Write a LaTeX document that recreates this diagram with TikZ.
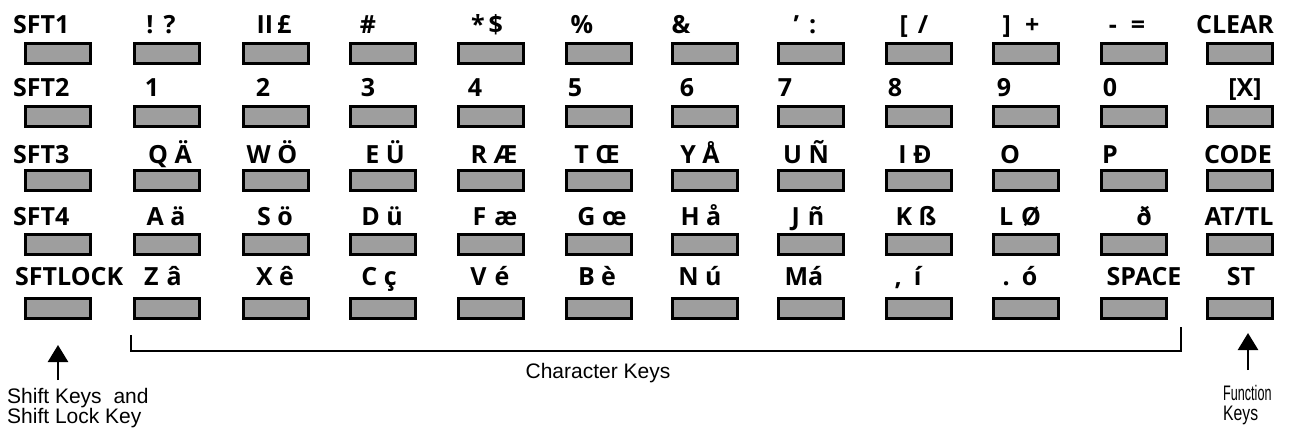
\documentclass[tikz,border=0pt]{standalone}
\usepackage{fontspec}
\usetikzlibrary{arrows.meta}
\newfontfamily\labfont{Open Sans}
\newfontfamily\capfont{Liberation Sans}
\begin{document}
\begin{tikzpicture}[x=1pt,y=-1pt,
  keybox/.style={draw=black, line width=3pt, fill=black!38, minimum width=65pt, minimum height=20pt, inner sep=0pt},
  lab/.style={font=\labfont\bfseries\fontsize{25}{25}\selectfont, inner sep=0pt, anchor=base},
  sftlab/.style={lab, anchor=base west},
  captext/.style={font=\capfont\fontsize{21}{20}\selectfont, inner sep=0pt},
  bracketline/.style={line width=2.2pt},
  uparrow/.style={line width=2.5pt, -{Triangle[width=20pt,length=17pt]}}]
\useasboundingbox (0,0) rectangle (1293,431);
\fill[white] (0,0) rectangle (1293,431);

% keys
\foreach \r/\y in {1/53,2/116,3/180,4/244,5/308}
  \foreach \c/\x in {1/58,2/167,3/276,4/383,5/491,6/599,7/705,8/811,9/919,10/1026,11/1134,12/1240}
    \node[keybox] (k\r-\c) at (\x,\y) {};

% row 1
\node[sftlab] (l1-1) at (13,33) {SFT1};
\node[lab] (l1-2) at (161,33) {!\hspace{10pt}?};
\node[lab] (l1-3) at (274,33) {II\hspace{4pt}£};
\node[lab] (l1-4) at (368,33) {\#};
\node[lab] (l1-5) at (487,33) {*\hspace{4pt}\$};
\node[lab] (l1-6) at (582,33) {\%};
\node[lab] (l1-7) at (681,33) {\&};
\node[lab] (l1-8) at (805,33) {’\hspace{10pt}:};
\node[lab] (l1-9) at (914,33) {[\hspace{10pt}/};
\node[lab] (l1-10) at (1021,33) {]\hspace{14pt}+};
\node[lab] (l1-11) at (1127,33) {-\hspace{14pt}=};
\node[lab] (l1-12) at (1235,33) {CLEAR};

% row 2
\node[sftlab] (l2-1) at (13,96) {SFT2};
\node[lab] (l2-2) at (152,96) {1};
\node[lab] (l2-3) at (263,96) {2};
\node[lab] (l2-4) at (368,96) {3};
\node[lab] (l2-5) at (475,96) {4};
\node[lab] (l2-6) at (575,96) {5};
\node[lab] (l2-7) at (687,96) {6};
\node[lab] (l2-8) at (785,96) {7};
\node[lab] (l2-9) at (895,96) {8};
\node[lab] (l2-10) at (1004,96) {9};
\node[lab] (l2-11) at (1110,96) {0};
\node[lab] (l2-12) at (1245,96) {[X]};

% row 3
\node[sftlab] (l3-1) at (13,163) {SFT3};
\node[lab] (l3-2) at (170,163) {Q Ä};
\node[lab] (l3-3) at (272,163) {W Ö};
\node[lab] (l3-4) at (385,163) {E Ü};
\node[lab] (l3-5) at (494,163) {R Æ};
\node[lab] (l3-6) at (597,163) {T Œ};
\node[lab] (l3-7) at (700,163) {Y Å};
\node[lab] (l3-8) at (806,163) {U Ñ};
\node[lab] (l3-9) at (915,163) {I Ð};
\node[lab] (l3-10) at (1010,163) {O};
\node[lab] (l3-11) at (1110,163) {P};
\node[lab] (l3-12) at (1238,163) {CODE};

% row 4
\node[sftlab] (l4-1) at (13,225) {SFT4};
\node[lab] (l4-2) at (166,225) {A ä};
\node[lab] (l4-3) at (275,225) {S ö};
\node[lab] (l4-4) at (382,225) {D ü};
\node[lab] (l4-5) at (495,225) {F\hspace{8pt}æ};
\node[lab] (l4-6) at (602,225) {G œ};
\node[lab] (l4-7) at (701,225) {H å};
\node[lab] (l4-8) at (808,225) {J\hspace{8pt}ñ};
\node[lab] (l4-9) at (916,225) {K ß};
\node[lab] (l4-10) at (1020,225) {L\hspace{8pt}Ø};
\node[lab] (l4-11) at (1144,225) {ð};
\node[lab] (l4-12) at (1239,225) {AT/TL};

% row 5
\node[sftlab] (l5-1) at (15,285) {SFTLOCK};
\node[lab] (l5-2) at (163,285) {Z\hspace{8pt}â};
\node[lab] (l5-3) at (275,285) {X ê};
\node[lab] (l5-4) at (379,285) {C ç};
\node[lab] (l5-5) at (490,285) {V\hspace{8pt}é};
\node[lab] (l5-6) at (597,285) {B\hspace{6pt}è};
\node[lab] (l5-7) at (700,285) {N ú};
\node[lab] (l5-8) at (804,285) {Má};
\node[lab] (l5-9) at (908,285) {,\hspace{12pt}í};
\node[lab] (l5-10) at (1020,285) {.\hspace{12pt}ó};
\node[lab] (l5-11) at (1144,285) {SPACE};
\node[lab] (l5-12) at (1241,285) {ST};

% bracket for character keys
\coordinate (brA) at (131,335);
\coordinate (brB) at (131,351);
\coordinate (brC) at (1181,351);
\coordinate (brD) at (1181,327);
\draw[bracketline] (brA) -- (brB) -- (brC) -- (brD);
\node[captext, anchor=base] (capC) at (598,378) {Character Keys};

% shift keys caption and arrow
\node[captext, anchor=north west, align=left] (capL) at (7,388) {Shift Keys\hspace{6pt} and\\Shift Lock Key};
\coordinate (arLtail) at (58,380);
\coordinate (arLtip) at (58,345);
\draw[uparrow] (arLtail) -- (arLtip);

% function keys caption and arrow
\node[captext, anchor=north west, align=left] (capR) at (1223,385) {\scalebox{0.6}[1]{Function}\\\scalebox{0.75}[1]{Keys}};
\coordinate (arRtail) at (1248,370);
\coordinate (arRtip) at (1248,333);
\draw[uparrow] (arRtail) -- (arRtip);
\end{tikzpicture}
\end{document}
